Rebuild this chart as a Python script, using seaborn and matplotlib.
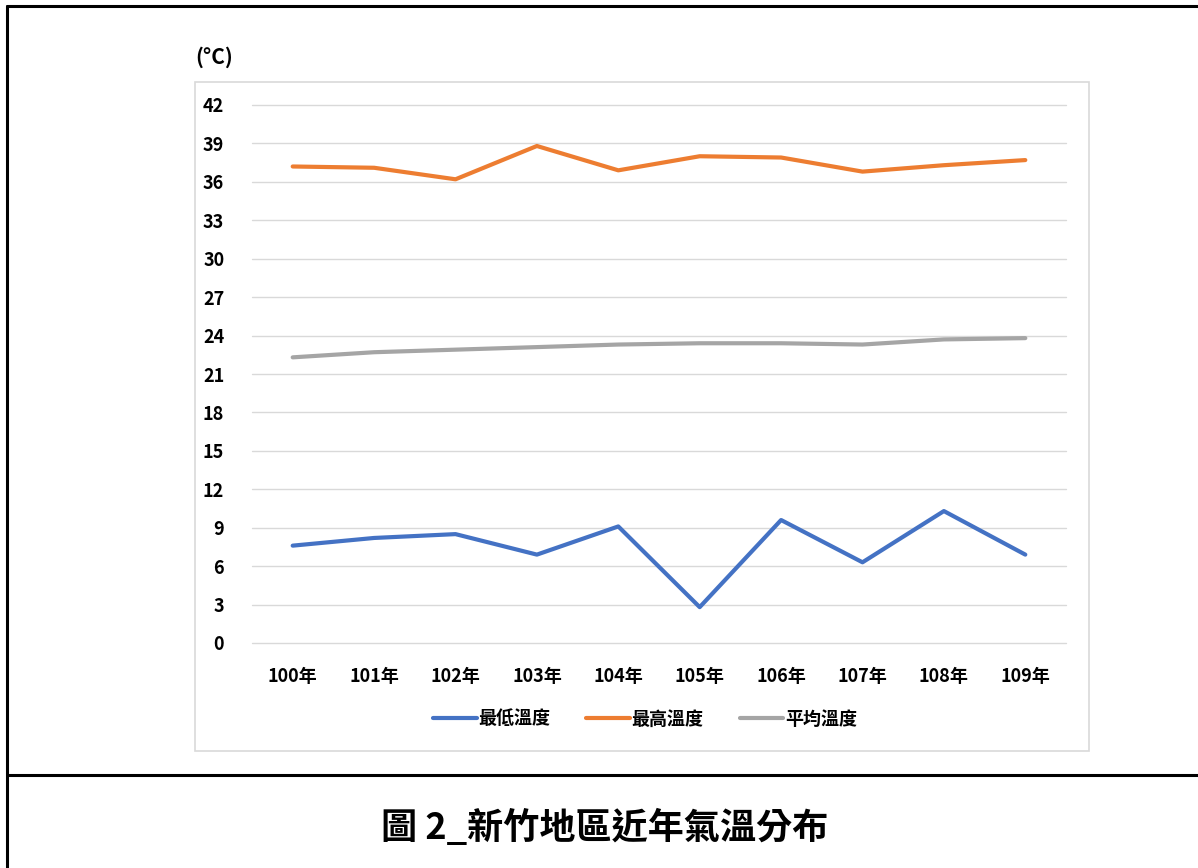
import matplotlib
matplotlib.use("Agg")
import matplotlib.pyplot as plt
import seaborn as sns
import pandas as pd
from matplotlib.lines import Line2D
from matplotlib.patches import Rectangle

# Temperature data (Hsinchu, 100-109)
years = ["100年", "101年", "102年", "103年", "104年",
         "105年", "106年", "107年", "108年", "109年"]
temp_min = [7.6, 8.2, 8.5, 6.9, 9.1, 2.8, 9.6, 6.3, 10.3, 6.9]
temp_max = [37.2, 37.1, 36.2, 38.8, 36.9, 38.0, 37.9, 36.8, 37.3, 37.7]
temp_avg = [22.3, 22.7, 22.9, 23.1, 23.3, 23.4, 23.4, 23.3, 23.7, 23.8]
series_names = ["最低溫度", "最高溫度", "平均溫度"]
y_ticks = list(range(0, 43, 3))
colors = ["#4472C4", "#ED7D31", "#A5A5A5"]

df = pd.DataFrame({
    "年": years * 3,
    "溫度": temp_min + temp_max + temp_avg,
    "類別": [series_names[0]] * 10 + [series_names[1]] * 10 + [series_names[2]] * 10,
})

sns.set_style("white")
plt.rcParams["font.family"] = ["Noto Sans CJK TC", "DejaVu Sans"]
plt.rcParams["text.color"] = "black"
plt.rcParams["xtick.color"] = "black"
plt.rcParams["ytick.color"] = "black"

fig = plt.figure(figsize=(11.98, 8.68), dpi=100)
ax = fig.add_axes([252 / 1198, 1 - 643 / 868, 814 / 1198, 538 / 868])

sns.lineplot(data=df, x="年", y="溫度", hue="類別", palette=colors,
             linewidth=3, ax=ax, legend=False, sort=False)

ax.set_ylim(0, 42)
ax.set_xlim(-0.5, 9.5)
ax.set_yticks(y_ticks)
ax.set_yticklabels([str(t) for t in y_ticks], fontsize=13, fontweight="bold")
ax.set_xticks(range(len(years)))
ax.set_xticklabels(years, fontsize=13, fontweight="bold")
ax.tick_params(axis="y", length=0, pad=20)
ax.tick_params(axis="x", length=0, pad=17)
ax.grid(axis="y", color="#D9D9D9", linewidth=1)
for gl in ax.get_ygridlines():
    gl.set_clip_on(False)
ax.set_axisbelow(True)
for s in ax.spines.values():
    s.set_visible(False)
ax.set_xlabel("")
ax.set_ylabel("")

fig.text(195 / 1198, 1 - 57 / 868, "(°C)", fontsize=15, fontweight="bold",
         ha="left", va="center")

handles = [Line2D([], [], color=c, linewidth=3) for c in colors]
fig.legend(handles, series_names, loc="center", ncol=3, frameon=False,
           bbox_to_anchor=(645 / 1198, 1 - 719 / 868),
           prop={"size": 13, "weight": "bold"},
           handlelength=2.4, handletextpad=0.1, columnspacing=2.0)

# chart box
fig.patches.append(Rectangle((195 / 1198, 1 - 751 / 868), 894 / 1198, 669 / 868,
                             transform=fig.transFigure, fill=False,
                             edgecolor="#D9D9D9", linewidth=1.2))

# outer table frame
frame_kw = dict(transform=fig.transFigure, color="black", linewidth=2.2)
fig.lines.append(Line2D([7 / 1198, 7 / 1198], [0, 1 - 6 / 868], **frame_kw))
fig.lines.append(Line2D([7 / 1198, 1], [1 - 6 / 868, 1 - 6 / 868], **frame_kw))
fig.lines.append(Line2D([7 / 1198, 1], [1 - 775 / 868, 1 - 775 / 868], **frame_kw))

fig.text(605 / 1198, 1 - 828 / 868, "圖 2_新竹地區近年氣溫分布", fontsize=26,
         fontweight="bold", ha="center", va="center")

fig.savefig("out.png", dpi=100)
